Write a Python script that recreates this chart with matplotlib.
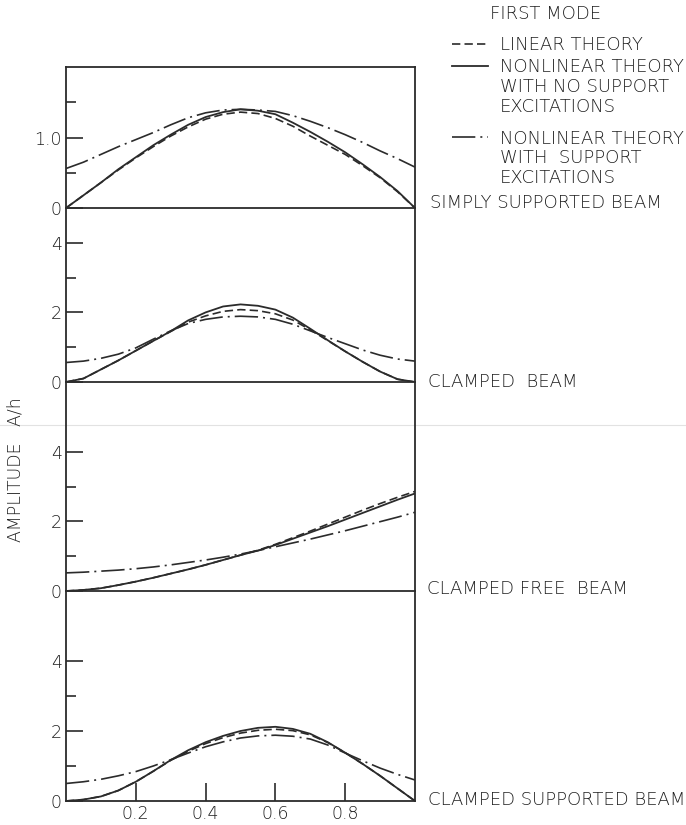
import matplotlib
matplotlib.use("Agg")
import matplotlib.pyplot as plt
from matplotlib.lines import Line2D

# ---------------- data ----------------
x_pos = [0.0, 0.05, 0.1, 0.15, 0.2, 0.25, 0.3, 0.35, 0.4, 0.45, 0.5,
         0.55, 0.6, 0.65, 0.7, 0.75, 0.8, 0.85, 0.9, 0.95, 1.0]

# Simply supported beam
ss_linear = [0, 0.18, 0.36, 0.54, 0.71, 0.87, 1.02, 1.15, 1.26, 1.33, 1.36,
             1.34, 1.27, 1.16, 1.02, 0.89, 0.76, 0.60, 0.43, 0.23, 0]
ss_nl_nosupp = [0, 0.18, 0.36, 0.55, 0.72, 0.89, 1.04, 1.18, 1.29, 1.36, 1.40,
                1.38, 1.33, 1.21, 1.08, 0.94, 0.79, 0.62, 0.44, 0.24, 0]
ss_nl_supp = [0.56, 0.65, 0.76, 0.87, 0.97, 1.07, 1.18, 1.28, 1.35, 1.39, 1.40,
              1.39, 1.37, 1.31, 1.23, 1.14, 1.04, 0.93, 0.81, 0.70, 0.58]

# Clamped beam
cl_linear = [0, 0.10, 0.36, 0.62, 0.90, 1.18, 1.45, 1.72, 1.90, 2.03, 2.08,
             2.05, 1.96, 1.78, 1.50, 1.19, 0.88, 0.58, 0.30, 0.08, 0]
cl_nl_nosupp = [0, 0.10, 0.36, 0.62, 0.90, 1.18, 1.46, 1.77, 2.00, 2.17, 2.23,
                2.19, 2.08, 1.85, 1.53, 1.20, 0.88, 0.58, 0.30, 0.08, 0]
cl_nl_supp = [0.56, 0.60, 0.68, 0.80, 0.98, 1.23, 1.47, 1.68, 1.80, 1.87, 1.89,
              1.87, 1.80, 1.66, 1.47, 1.28, 1.10, 0.92, 0.77, 0.66, 0.60]

# Clamped free beam
cf_linear = [0, 0.03, 0.08, 0.17, 0.27, 0.38, 0.50, 0.62, 0.75, 0.89, 1.03,
             1.17, 1.34, 1.53, 1.72, 1.92, 2.12, 2.32, 2.51, 2.69, 2.86]
cf_nl_nosupp = [0, 0.03, 0.08, 0.17, 0.27, 0.38, 0.50, 0.62, 0.75, 0.89, 1.03,
                1.16, 1.32, 1.50, 1.68, 1.86, 2.05, 2.24, 2.43, 2.62, 2.80]
cf_nl_supp = [0.52, 0.54, 0.57, 0.60, 0.64, 0.69, 0.75, 0.82, 0.89, 0.97, 1.06,
              1.16, 1.27, 1.38, 1.49, 1.61, 1.73, 1.86, 1.99, 2.12, 2.26]

# Clamped supported beam
cs_linear = [0, 0.04, 0.13, 0.30, 0.55, 0.85, 1.16, 1.42, 1.64, 1.81, 1.94,
             2.02, 2.05, 2.01, 1.89, 1.67, 1.38, 1.06, 0.72, 0.36, 0]
cs_nl_nosupp = [0, 0.04, 0.13, 0.30, 0.55, 0.85, 1.17, 1.45, 1.68, 1.86, 2.00,
                2.09, 2.12, 2.06, 1.92, 1.68, 1.38, 1.06, 0.72, 0.36, 0]
cs_nl_supp = [0.50, 0.55, 0.62, 0.72, 0.84, 1.00, 1.18, 1.37, 1.55, 1.69, 1.80,
              1.86, 1.88, 1.85, 1.77, 1.60, 1.37, 1.15, 0.94, 0.76, 0.60]

panel_names = ["SIMPLY SUPPORTED BEAM", "CLAMPED  BEAM",
               "CLAMPED FREE  BEAM", "CLAMPED SUPPORTED BEAM"]
panel_ylims = [2, 5, 6, 6]
panel_major = [[1.0], [2, 4], [2, 4], [2, 4]]
panel_major_labels = [["1.0"], ["2", "4"], ["2", "4"], ["2", "4"]]
panel_minor = [[0.5, 1.5], [1, 3], [1, 3], [1, 3]]
x_ticks = [0.2, 0.4, 0.6, 0.8]
x_tick_labels = ["0.2", "0.4", "0.6", "0.8"]

legend_title = "FIRST MODE"
legend_labels = ["LINEAR THEORY",
                 "NONLINEAR THEORY\nWITH NO SUPPORT\nEXCITATIONS",
                 "NONLINEAR THEORY\nWITH  SUPPORT\nEXCITATIONS"]
y_label = "AMPLITUDE   A/h"

series = [
    (ss_linear, ss_nl_nosupp, ss_nl_supp),
    (cl_linear, cl_nl_nosupp, cl_nl_supp),
    (cf_linear, cf_nl_nosupp, cf_nl_supp),
    (cs_linear, cs_nl_nosupp, cs_nl_supp),
]

# ---------------- styling ----------------
W, H = 686, 825
INK = "#2b2b2b"
TXT = "#1f1f1f"
plt.rcParams['font.family'] = ['DejaVu Sans']
plt.rcParams['font.size'] = 12

fig = plt.figure(figsize=(W / 100, H / 100), dpi=100)
fig.patch.set_facecolor("white")

def fx(px):
    return px / W

def fy(py):
    return 1 - py / H

left_px, right_px = 66, 415
bounds = [(67, 208), (208, 382), (382, 591), (591, 801)]

styles = [
    dict(linestyle=(0, (5, 2.5)), lw=1.2),          # linear theory
    dict(linestyle="-", lw=1.3),                     # nonlinear no support
    dict(linestyle=(0, (14, 3, 1.2, 3)), lw=1.2),    # nonlinear with support
]

axes = []
for i, (top, bot) in enumerate(bounds):
    ax = fig.add_axes([fx(left_px), fy(bot), fx(right_px - left_px), (bot - top) / H])
    ax.set_facecolor("none")
    ax.set_xlim(0, 1)
    ax.set_ylim(0, panel_ylims[i])
    for k in range(3):
        ax.plot(x_pos, series[i][k], color=INK, **styles[k])
    for side in ["left", "right", "bottom", "top"]:
        ax.spines[side].set_color(INK)
        ax.spines[side].set_linewidth(1.3)
    ax.spines["top"].set_visible(i == 0)
    ax.set_yticks([0] + panel_major[i])
    ax.set_yticklabels(["0"] + panel_major_labels[i])
    ax.set_yticks(panel_minor[i], minor=True)
    ax.tick_params(axis="y", which="major", direction="in", length=12, width=1.2,
                   color=INK, labelcolor=TXT, labelsize=12.5, pad=3)
    ax.tick_params(axis="y", which="minor", direction="in", length=7, width=1.2,
                   color=INK)
    if i == 3:
        ax.set_xticks(x_ticks)
        ax.set_xticklabels(x_tick_labels)
        ax.tick_params(axis="x", direction="in", length=13, width=1.2, color=INK,
                       labelcolor=TXT, labelsize=12.5, pad=3)
    else:
        ax.set_xticks([])
    for lab in ax.get_xticklabels() + ax.get_yticklabels():
        lab.set_fontweight("light")
    axes.append(ax)

# panel names
name_pos = [(430, 203), (428, 382), (427, 589), (428, 800)]
for name, (px, py) in zip(panel_names, name_pos):
    fig.text(fx(px), fy(py), name, ha="left", va="center", color=TXT,
             fontsize=13, fontweight="light")

# legend
fig.text(fx(490), fy(14), legend_title, ha="left", va="center", color=TXT,
         fontsize=13, fontweight="light")
legend_rows = [44, 66, 137]
for k, (lab, ry) in enumerate(zip(legend_labels, legend_rows)):
    fig.add_artist(Line2D([fx(452), fx(488)], [fy(ry), fy(ry)], color=INK,
                          transform=fig.transFigure, **styles[k]))
    fig.text(fx(500), fy(ry - 7.5), lab, ha="left", va="top", color=TXT,
             fontsize=13, linespacing=1.12, fontweight="light")

# y label
fig.text(fx(16), fy(470), y_label, rotation=90, ha="center", va="center",
         color=TXT, fontsize=12.5, fontweight="light")

# faint scan crease across the page
fig.add_artist(Line2D([0, 1], [fy(425), fy(425)], color="#e2e2e2", lw=0.8,
                      transform=fig.transFigure, zorder=0))

fig.savefig("out.png", dpi=100, facecolor="white")
